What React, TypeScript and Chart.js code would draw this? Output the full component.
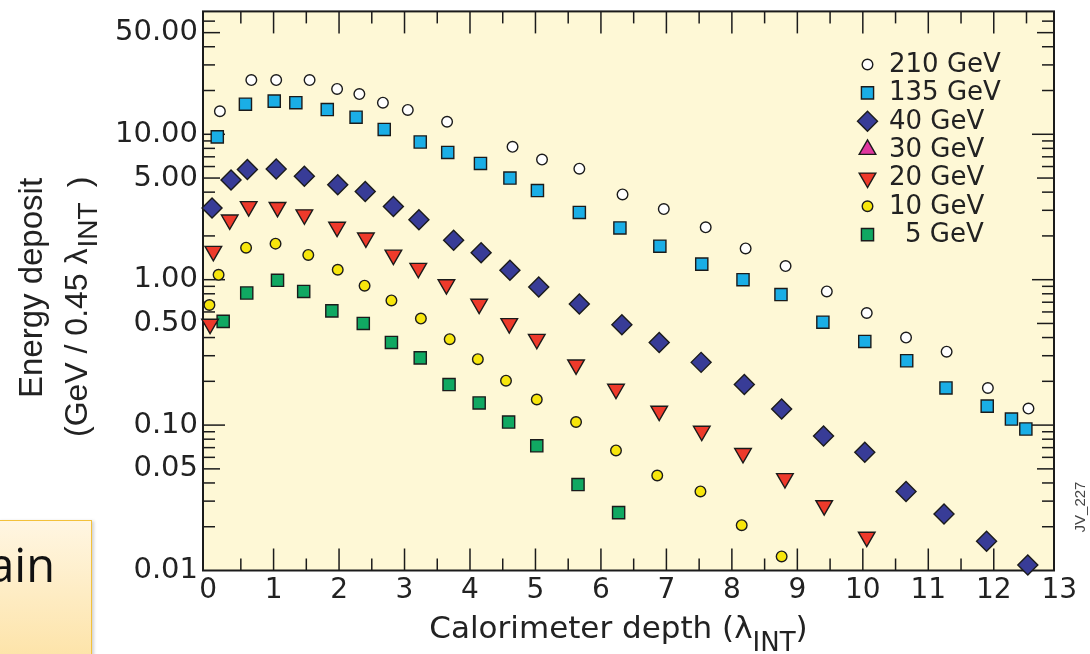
import React, { useEffect, useRef } from 'react';
import { Chart, registerables } from 'chart.js';

Chart.register(...registerables);

// ---------- data ----------
const SERIES_LABELS = ['210 GeV', '135 GeV', '40 GeV', '30 GeV', '20 GeV', '10 GeV', '5 GeV'];

const DEPTH_210 = [0.18, 0.66, 1.04, 1.55, 1.97, 2.31, 2.67, 3.05, 3.65, 4.65, 5.10, 5.67, 6.33, 6.96, 7.60, 8.21, 8.82, 9.45, 10.06, 10.66, 11.28, 11.91, 12.53];
const DEPOSIT_210 = [14.4, 23.6, 23.6, 23.6, 20.5, 18.9, 16.5, 14.7, 12.2, 8.2, 6.7, 5.8, 3.86, 3.06, 2.29, 1.64, 1.24, 0.83, 0.59, 0.40, 0.32, 0.18, 0.13];

const DEPTH_135 = [0.14, 0.57, 1.01, 1.34, 1.82, 2.26, 2.69, 3.24, 3.66, 4.16, 4.61, 5.03, 5.67, 6.29, 6.90, 7.54, 8.17, 8.75, 9.39, 10.03, 10.67, 11.27, 11.90, 12.27, 12.49];
const DEPOSIT_135 = [9.6, 16.1, 16.9, 16.5, 14.8, 13.1, 10.8, 8.85, 7.5, 6.3, 5.0, 4.1, 2.9, 2.27, 1.70, 1.28, 1.00, 0.79, 0.51, 0.376, 0.277, 0.180, 0.135, 0.110, 0.094];

const DEPTH_40 = [0.06, 0.35, 0.60, 1.04, 1.47, 1.98, 2.40, 2.83, 3.22, 3.75, 4.17, 4.61, 5.05, 5.67, 6.32, 6.89, 7.53, 8.19, 8.76, 9.40, 10.03, 10.66, 11.24, 11.89, 12.52];
const DEPOSIT_40 = [3.11, 4.84, 5.72, 5.78, 5.15, 4.50, 4.04, 3.19, 2.58, 1.87, 1.53, 1.16, 0.89, 0.68, 0.49, 0.37, 0.27, 0.19, 0.129, 0.084, 0.065, 0.035, 0.0245, 0.0159, 0.0109];

const DEPTH_30: number[] = [];
const DEPOSIT_30: number[] = [];

const DEPTH_20 = [0.03, 0.08, 0.33, 0.62, 1.06, 1.47, 1.97, 2.41, 2.83, 3.21, 3.64, 4.14, 4.60, 5.02, 5.62, 6.23, 6.89, 7.54, 8.17, 8.81, 9.41, 10.06];
const DEPOSIT_20 = [0.495, 1.57, 2.58, 3.19, 3.15, 2.80, 2.30, 1.94, 1.48, 1.20, 0.925, 0.68, 0.50, 0.39, 0.26, 0.177, 0.125, 0.091, 0.064, 0.043, 0.028, 0.017];

const DEPTH_10 = [0.02, 0.16, 0.58, 1.03, 1.53, 1.98, 2.39, 2.80, 3.25, 3.69, 4.12, 4.55, 5.02, 5.62, 6.23, 6.86, 7.52, 8.15, 8.76];
const DEPOSIT_10 = [0.67, 1.08, 1.66, 1.77, 1.48, 1.17, 0.91, 0.72, 0.54, 0.39, 0.284, 0.202, 0.150, 0.105, 0.067, 0.045, 0.035, 0.0205, 0.0125];

const DEPTH_5 = [0.23, 0.59, 1.06, 1.46, 1.89, 2.37, 2.80, 3.24, 3.68, 4.14, 4.59, 5.02, 5.65, 6.27];
const DEPOSIT_5 = [0.517, 0.81, 0.99, 0.83, 0.61, 0.50, 0.37, 0.29, 0.19, 0.142, 0.105, 0.072, 0.039, 0.025];

const X_TICKS = [0, 1, 2, 3, 4, 5, 6, 7, 8, 9, 10, 11, 12, 13];
const Y_TICKS = [0.01, 0.05, 0.1, 0.5, 1, 5, 10, 50];

const X_TITLE = 'Calorimeter depth (\u03bb';
const X_TITLE_SUB = 'INT';
const Y_TITLE_1 = 'Energy deposit';
const Y_TITLE_2 = '(GeV / 0.45 \u03bb';
const Y_TITLE_SUB = 'INT';
const CLOSE_PAREN = ')';
const FIG_ID = 'JV_227';
const SIDE_NOTE = 'ain';

// ---------- styles ----------
const PLOT_BG = '#fef8d6';
const INK = '#1b1b1b';
const MARKERS = [
  { style: 'circle', r: 5.3, rot: 0, bg: '#ffffff' },
  { style: 'rect', r: 8.6, rot: 0, bg: '#1aaee6' },
  { style: 'rectRot', r: 10, rot: 0, bg: '#383c97' },
  { style: 'triangle', r: 9.6, rot: 0, bg: '#e0379f' },
  { style: 'triangle', r: 9.6, rot: 180, bg: '#ee3a2b' },
  { style: 'circle', r: 5.3, rot: 0, bg: '#f7e60c' },
  { style: 'rect', r: 8.6, rot: 0, bg: '#10a862' },
];

const SERIES_X = [DEPTH_210, DEPTH_135, DEPTH_40, DEPTH_30, DEPTH_20, DEPTH_10, DEPTH_5];
const SERIES_Y = [DEPOSIT_210, DEPOSIT_135, DEPOSIT_40, DEPOSIT_30, DEPOSIT_20, DEPOSIT_10, DEPOSIT_5];

const pts = (xs: number[], ys: number[]) => xs.map((x, i) => ({ x, y: ys[i] }));

function drawMarker(ctx: CanvasRenderingContext2D, style: string, x: number, y: number, r: number, rotDeg: number, fill: string) {
  ctx.save();
  ctx.beginPath();
  let rad = (rotDeg * Math.PI) / 180;
  if (style === 'circle') {
    ctx.arc(x, y, r, 0, Math.PI * 2);
  } else if (style === 'rect') {
    const s = r * Math.SQRT1_2;
    ctx.rect(x - s, y - s, 2 * s, 2 * s);
  } else if (style === 'rectRot') {
    ctx.moveTo(x - r, y);
    ctx.lineTo(x, y - r);
    ctx.lineTo(x + r, y);
    ctx.lineTo(x, y + r);
    ctx.closePath();
  } else {
    for (let k = 0; k < 3; k++) {
      const px = x + Math.sin(rad) * r;
      const py = y - Math.cos(rad) * r;
      if (k === 0) ctx.moveTo(px, py);
      else ctx.lineTo(px, py);
      rad += (2 * Math.PI) / 3;
    }
    ctx.closePath();
  }
  ctx.fillStyle = fill;
  ctx.fill();
  ctx.lineWidth = 1.4;
  ctx.strokeStyle = INK;
  ctx.stroke();
  ctx.restore();
}

const framePlugin = {
  id: 'frame',
  beforeDraw(chart: any) {
    const { ctx, chartArea: a } = chart;
    ctx.save();
    ctx.fillStyle = PLOT_BG;
    ctx.fillRect(a.left, a.top, a.right - a.left, a.bottom - a.top);
    ctx.restore();
  },
  beforeDatasetsDraw(chart: any) {
    const { ctx, chartArea: a, scales } = chart;
    const xs = scales.x;
    const ys = scales.y;
    ctx.save();
    ctx.strokeStyle = INK;
    ctx.lineWidth = 1.5;
    const seg = (x1: number, y1: number, x2: number, y2: number) => {
      ctx.beginPath();
      ctx.moveTo(x1, y1);
      ctx.lineTo(x2, y2);
      ctx.stroke();
    };
    // x ticks (bottom + top, inward)
    X_TICKS.forEach((t) => {
      [t, t + 0.5].forEach((v, j) => {
        const px = xs.getPixelForValue(v);
        if (px < a.left + 6 || px > a.right - 6) return;
        const len = j === 0 ? 22 : 12;
        seg(px, a.bottom, px, a.bottom - len);
        seg(px, a.top, px, a.top + len);
      });
    });
    // y ticks (left + right, inward), log minor ticks
    for (let e = -2; e <= 1; e++) {
      for (let m = 1; m <= 9; m++) {
        const v = m * Math.pow(10, e);
        if (v < ys.min || v > ys.max) continue;
        const py = ys.getPixelForValue(v);
        if (py > a.bottom - 3 || py < a.top + 3) continue;
        const len = m === 1 ? 22 : m === 5 ? 17 : 12;
        seg(a.left, py, a.left + len, py);
        seg(a.right, py, a.right - len, py);
      }
    }
    // frame
    ctx.lineWidth = 2;
    ctx.strokeRect(a.left, a.top, a.right - a.left, a.bottom - a.top);
    ctx.restore();
  },
  afterDraw(chart: any) {
    const { ctx, chartArea: a } = chart;
    ctx.save();
    ctx.fillStyle = '#222';
    ctx.textAlign = 'left';
    ctx.textBaseline = 'alphabetic';

    // x-axis title with subscript
    ctx.font = '31px "DejaVu Sans"';
    const xMain = ctx.measureText(X_TITLE).width;
    ctx.font = '26px "DejaVu Sans"';
    const xSub = ctx.measureText(X_TITLE_SUB).width;
    ctx.font = '31px "DejaVu Sans"';
    const xClose = ctx.measureText(CLOSE_PAREN).width;
    const xTotal = xMain + xSub + xClose;
    const xStart = (a.left + a.right) / 2 - 10 - xTotal / 2;
    const xBase = 638;
    ctx.fillText(X_TITLE, xStart, xBase);
    ctx.font = '26px "DejaVu Sans"';
    ctx.fillText(X_TITLE_SUB, xStart + xMain, xBase + 13);
    ctx.font = '31px "DejaVu Sans"';
    ctx.fillText(CLOSE_PAREN, xStart + xMain + xSub, xBase);

    // y-axis title, two rotated lines
    ctx.save();
    ctx.translate(42, 288);
    ctx.rotate(-Math.PI / 2);
    ctx.textAlign = 'center';
    ctx.font = '33px "Liberation Sans"';
    ctx.fillText(Y_TITLE_1, 0, 0);
    ctx.restore();

    ctx.save();
    ctx.translate(87, 437);
    ctx.rotate(-Math.PI / 2);
    ctx.textAlign = 'left';
    ctx.font = '32px "Liberation Sans"';
    const yMain = ctx.measureText(Y_TITLE_2).width;
    ctx.fillText(Y_TITLE_2, 0, 0);
    ctx.font = '28px "Liberation Sans"';
    const ySub = ctx.measureText(Y_TITLE_SUB).width;
    ctx.fillText(Y_TITLE_SUB, yMain + 1, 10);
    ctx.font = '32px "Liberation Sans"';
    ctx.fillText(CLOSE_PAREN, yMain + ySub + 16, 3);
    ctx.restore();

    // legend inside plot area
    chart.data.datasets.forEach((ds: any, i: number) => {
      const cy = 62.5 + i * 28.35;
      const mk = MARKERS[i];
      drawMarker(ctx, mk.style, 867.5, cy + 2, mk.r, mk.rot, mk.bg);
      ctx.fillStyle = '#222';
      ctx.font = '26px "DejaVu Sans"';
      ctx.textAlign = 'left';
      const label = ds.label;
      const shift = label.length < 6 ? 16 : 0;
      ctx.fillText(label, 889 + shift, cy + 9.5);
    });

    // figure id, rotated at right edge
    ctx.save();
    ctx.translate(1081, 507);
    ctx.rotate(-Math.PI / 2);
    ctx.textAlign = 'center';
    ctx.textBaseline = 'middle';
    ctx.font = '15px "Liberation Sans"';
    ctx.fillStyle = '#444';
    ctx.fillText(FIG_ID, 0, 0);
    ctx.restore();

    ctx.restore();
  },
};

export default function App() {
  const canvasRef = useRef<HTMLCanvasElement | null>(null);

  useEffect(() => {
    const canvas = canvasRef.current;
    if (!canvas) return;
    const chart = new Chart(canvas, {
      type: 'scatter',
      data: {
        datasets: SERIES_LABELS.map((label, i) => ({
          label,
          data: pts(SERIES_X[i], SERIES_Y[i]),
          pointStyle: MARKERS[i].style as any,
          pointRadius: MARKERS[i].r,
          pointRotation: MARKERS[i].rot,
          pointBackgroundColor: MARKERS[i].bg,
          pointBorderColor: INK,
          pointBorderWidth: 1.4,
          showLine: false,
          clip: false as any,
        })),
      },
      options: {
        responsive: false,
        animation: false,
        events: [],
        layout: { padding: { top: 10, right: 36, left: 0, bottom: 0 } },
        plugins: {
          legend: { display: false },
          tooltip: { enabled: false },
          title: { display: false },
        },
        scales: {
          x: {
            type: 'linear',
            min: -0.078,
            max: 12.92,
            afterBuildTicks: (s: any) => {
              s.ticks = X_TICKS.map((v) => ({ value: v }));
            },
            afterFit: (s: any) => {
              s.height = 83.5;
              s.paddingLeft = 0;
              s.paddingRight = 0;
            },
            ticks: {
              autoSkip: false,
              maxRotation: 0,
              padding: 3,
              color: '#222',
              font: { family: 'DejaVu Sans', size: 28 },
              callback: (v: any) => String(v),
            },
            grid: { display: false, drawTicks: false },
            border: { display: false },
          },
          y: {
            type: 'logarithmic',
            min: 0.01,
            max: 70,
            afterBuildTicks: (s: any) => {
              s.ticks = Y_TICKS.map((v) => ({ value: v }));
            },
            afterFit: (s: any) => {
              s.width = 203;
              s.paddingTop = 0;
              s.paddingBottom = 0;
            },
            ticks: {
              autoSkip: false,
              padding: 5,
              color: '#222',
              font: { family: 'DejaVu Sans', size: 29 },
              callback: (v: any) => Number(v).toFixed(2),
            },
            grid: { display: false, drawTicks: false },
            border: { display: false },
          },
        },
      },
      plugins: [framePlugin],
    } as any);
    return () => chart.destroy();
  }, []);

  return (
    <div
      style={{
        position: 'fixed',
        left: 0,
        top: 0,
        width: 1090,
        height: 654,
        background: '#ffffff',
        overflow: 'hidden',
      }}
    >
      <canvas ref={canvasRef} width={1090} height={654} style={{ position: 'absolute', left: 0, top: 0 }} />
      <div
        style={{
          position: 'absolute',
          left: -2,
          top: 520,
          width: 94,
          height: 150,
          border: '1px solid #f3c13a',
          background: 'linear-gradient(#fff6e2, #fde2a4)',
          boxShadow: '2px 1px 3px rgba(0,0,0,0.18)',
          boxSizing: 'border-box',
        }}
      >
        <span
          style={{
            position: 'absolute',
            right: 36,
            top: 20,
            fontFamily: '"Open Sans", sans-serif',
            fontSize: 47,
            lineHeight: '47px',
            color: '#111',
            whiteSpace: 'nowrap',
          }}
        >
          {SIDE_NOTE}
        </span>
      </div>
    </div>
  );
}
